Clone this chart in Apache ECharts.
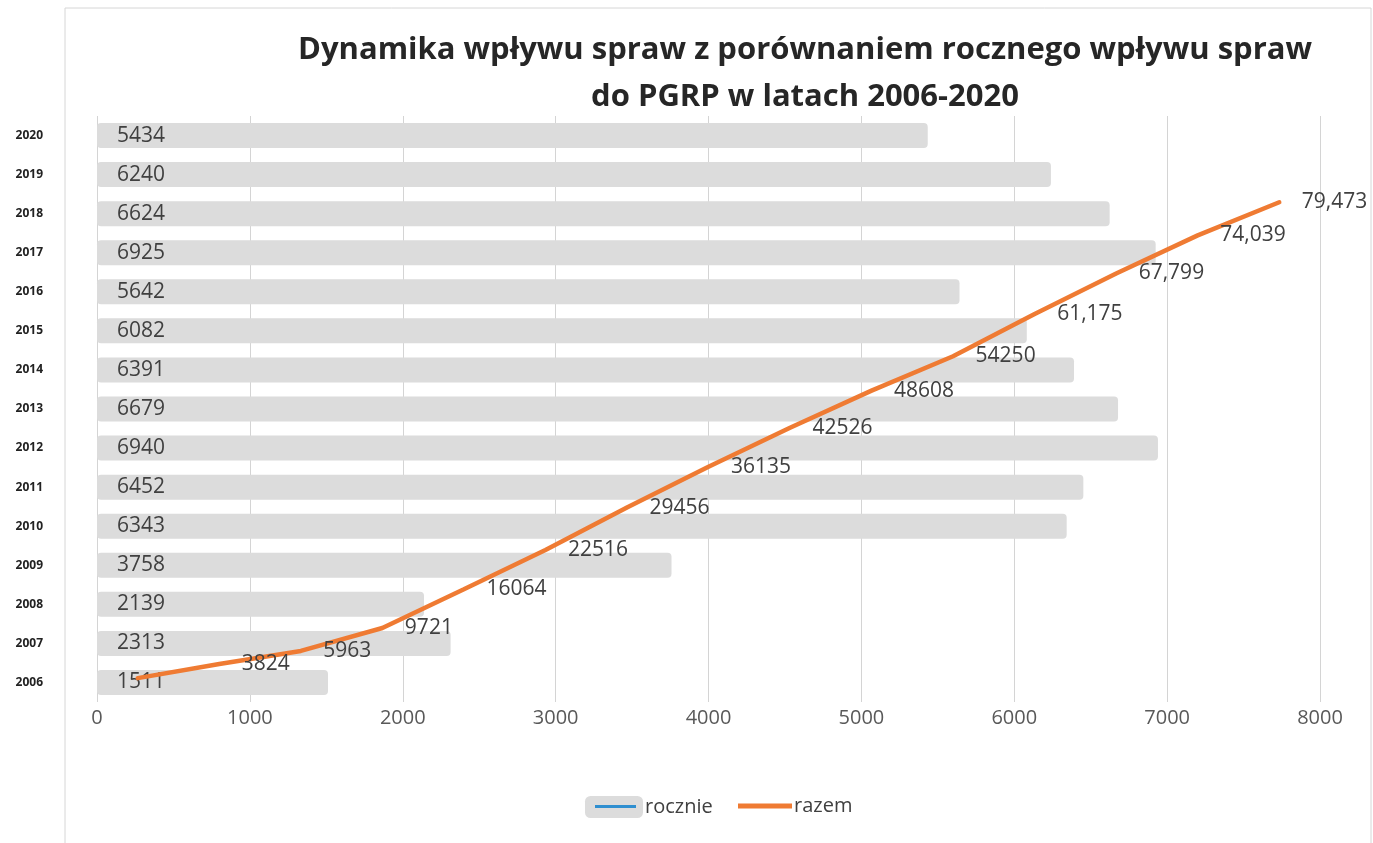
<!DOCTYPE html>
<html>
<head>
<meta charset="utf-8">
<title>Dynamika wpływu spraw</title>
<script src="https://cdn.jsdelivr.net/npm/echarts@6/dist/echarts.min.js"></script>
<style>
	html, body { margin: 0; padding: 0; background: #fff; }
	#chart { width: 1373px; height: 843px; }
</style>
</head>
<body>
<div id="chart"></div>
<script>
// lata (kategorie)
var years = ['2006', '2007', '2008', '2009', '2010', '2011', '2012', '2013', '2014', '2015', '2016', '2017', '2018', '2019', '2020'];
// wpływ roczny
var rocznie = [1511, 2313, 2139, 3758, 6343, 6452, 6940, 6679, 6391, 6082, 5642, 6925, 6624, 6240, 5434];
// wpływ narastająco
var razem = [1511, 3824, 5963, 9721, 16064, 22516, 29456, 36135, 42526, 48608, 54250, 61175, 67799, 74039, 79473];
// etykiety linii tak jak na wykresie (pierwsza ukryta)
var razemLabels = ['', '3824', '5963', '9721', '16064', '22516', '29456', '36135', '42526', '48608', '54250', '61,175', '67,799', '74,039', '79,473'];
// oś wartości
var xMin = 0, xMax = 8000, xStep = 1000;

var font = '"Open Sans", "Liberation Sans", sans-serif';
var myChart = echarts.init(document.getElementById('chart'), null, { renderer: 'canvas' });

var option = {
	backgroundColor: '#fff',
	animation: false,
	title: {
		text: 'Dynamika wpływu spraw z porównaniem rocznego wpływu spraw\ndo PGRP w latach 2006-2020',
		left: 800,
		top: 22,
		textAlign: 'center',
		textStyle: {
			fontFamily: font,
			fontWeight: 'bold',
			fontSize: 31,
			lineHeight: 47,
			color: '#262626'
		}
	},
	legend: [
		{
			//rocznie - szary prostokąt
			left: 585,
			top: 796,
			padding: 0,
			itemWidth: 58,
			itemHeight: 22,
			data: [{ name: 'rocznie', icon: 'roundRect', itemStyle: { color: '#dcdcdc' } }],
			textStyle: { fontFamily: font, fontSize: 20, lineHeight: 22, color: '#404040', padding: [0, 0, 0, -3] }
		},
		{
			//razem - pomarańczowa linia
			left: 738,
			top: 795,
			padding: 0,
			itemWidth: 54,
			itemHeight: 5,
			data: [{ name: 'razem', icon: 'rect', itemStyle: { color: '#ef7b33' } }],
			textStyle: { fontFamily: font, fontSize: 20, lineHeight: 22, color: '#404040', padding: [0, 0, 0, -3] }
		}
	],
	graphic: [
		{
			//ramka wykresu
			type: 'rect',
			shape: { x: 65, y: 8, width: 1306, height: 850 },
			style: { fill: 'none', stroke: '#d6d6d6', lineWidth: 1 },
			z: -1
		},
		{
			//niebieska kreska w legendzie "rocznie"
			type: 'rect',
			shape: { x: 595, y: 805, width: 41, height: 3 },
			style: { fill: '#2f8fd0' },
			z: 100
		}
	],
	grid: {
		left: 97,
		right: 53,
		top: 116,
		bottom: 141
	},
	xAxis: [
		{
			type: 'value',
			min: xMin,
			max: xMax,
			interval: xStep,
			axisLine: { show: false },
			axisTick: { show: false },
			splitLine: { show: true, lineStyle: { color: '#d4d4d4', width: 1 } },
			axisLabel: {
				margin: 6,
				fontFamily: font,
				fontSize: 20,
				color: '#595959',
				formatter: function(value) {
					return String(value);
				}
			}
		},
		{
			//oś dla linii "razem"
			type: 'category',
			data: years,
			boundaryGap: true,
			show: false
		}
	],
	yAxis: [
		{
			type: 'category',
			data: years,
			axisLine: { show: false },
			axisTick: { show: false },
			axisLabel: {
				margin: 54,
				fontFamily: font,
				fontWeight: 'bold',
				fontSize: 12,
				color: '#222'
			}
		},
		{
			//ukryta oś wartości narastających
			type: 'value',
			min: -2400,
			max: 93600,
			show: false,
			splitLine: { show: false }
		}
	],
	series: [
		{
			name: 'rocznie',
			type: 'bar',
			data: rocznie,
			barWidth: 25,
			itemStyle: { color: '#dcdcdc', borderRadius: 4 },
			label: {
				show: true,
				position: 'insideLeft',
				distance: 20,
				fontFamily: font,
				fontSize: 21,
				color: '#404040'
			}
		},
		{
			name: 'razem',
			type: 'line',
			xAxisIndex: 1,
			yAxisIndex: 1,
			data: razem,
			showSymbol: true,
			symbol: 'circle',
			symbolSize: 1,
			smooth: false,
			lineStyle: { color: '#ef7b33', width: 4.5, cap: 'round' },
			itemStyle: { color: '#ef7b33' },
			label: {
				show: true,
				position: 'right',
				distance: 22,
				fontFamily: font,
				fontSize: 21,
				color: '#404040',
				formatter: function(p) {
					return razemLabels[p.dataIndex];
				}
			},
			z: 5
		}
	]
};

myChart.setOption(option, true);
window.addEventListener('resize', function() {
	myChart.resize();
});
</script>
</body>
</html>
